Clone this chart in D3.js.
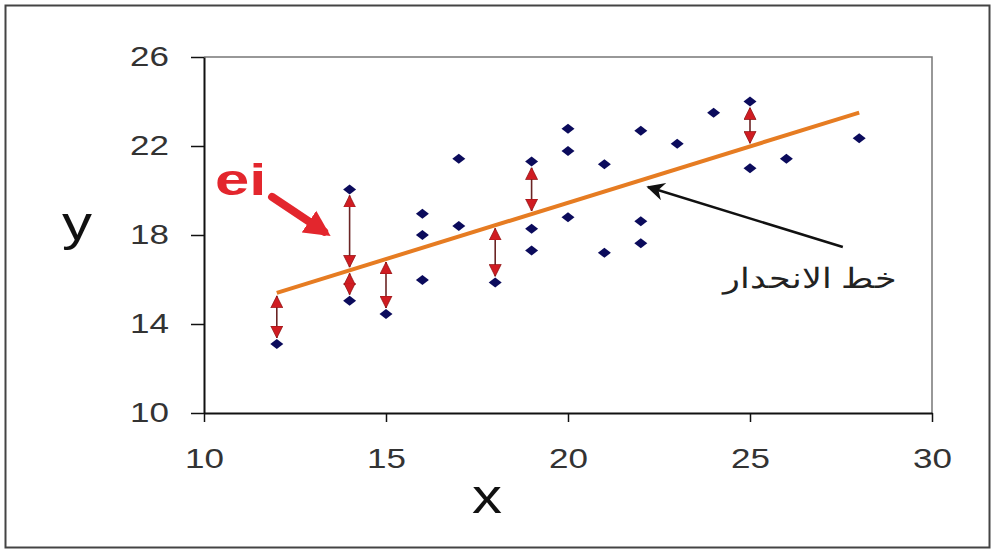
<!DOCTYPE html>
<html>
<head>
<meta charset="utf-8">
<script src="https://cdn.jsdelivr.net/npm/d3@7"></script>
<style>
  body { margin: 0; background: #fff; }
  text { font-family: "Liberation Sans", Arial, sans-serif; }
</style>
</head>
<body>
<script>
// tick values
var xTicks = [10, 15, 20, 25, 30];
var yTicks = [10, 14, 18, 22, 26];

// scatter points
var pointX = [12, 14, 14, 15, 16, 16, 16, 17, 17, 18, 19, 19, 19, 20, 20, 20, 21, 21, 22, 22, 22, 23, 24, 25, 25, 26, 28];
var pointY = [13.1, 20.05, 15.05, 14.45, 18.95, 18.0, 15.98, 21.43, 18.4, 15.87, 21.3, 18.28, 17.3, 22.77, 21.78, 18.8, 21.18, 17.2, 22.68, 18.62, 17.63, 22.1, 23.5, 24.0, 21.0, 21.43, 22.35];

// regression line end points
var fitX = [12, 28];
var fitY = [15.4, 23.5];

// residual arrows (x, observed y)
var residX = [12, 14, 14, 15, 18, 19, 25];
var residY = [13.1, 20.05, 15.05, 14.45, 15.87, 21.3, 24.0];

var width = 993, height = 551;
var svg = d3.select("body").append("svg").attr("width", width).attr("height", height);

svg.append("rect").attr("width", width).attr("height", height).attr("fill", "#fff");
svg.append("rect")
  .attr("x", 5.5).attr("y", 5.5)
  .attr("width", 984).attr("height", 542)
  .attr("fill", "none").attr("stroke", "#444").attr("stroke-width", 2);

var x = d3.scaleLinear().domain([10, 30]).range([204, 932]);
var y = d3.scaleLinear().domain([10, 26]).range([413, 57]);

// plot area frame (top + right)
svg.append("path")
  .attr("d", "M" + x(10) + "," + y(26) + "H" + x(30) + "V" + y(10))
  .attr("fill", "none").attr("stroke", "#777").attr("stroke-width", 1.5);

var xAxis = svg.append("g")
  .attr("transform", "translate(0," + y(10) + ")")
  .call(d3.axisBottom(x).tickValues(xTicks).tickSize(9).tickPadding(26).tickSizeOuter(0));
var yAxis = svg.append("g")
  .attr("transform", "translate(" + x(10) + ",0)")
  .call(d3.axisLeft(y).tickValues(yTicks).tickSize(13).tickPadding(23).tickSizeOuter(0));

[xAxis, yAxis].forEach(function (a) {
  a.select(".domain").attr("stroke", "#111").attr("stroke-width", 2);
  a.selectAll(".tick line").attr("stroke", "#111").attr("stroke-width", 1.5);
  a.selectAll(".tick text")
    .attr("font-size", 28)
    .attr("fill", "#333")
    .attr("font-family", "Liberation Sans, Arial, sans-serif");
});
xAxis.selectAll(".tick text").attr("transform", "scale(1.25,1)").attr("x", 0);
yAxis.selectAll(".tick text").attr("transform", "scale(1.25,1)").attr("x", -28);

// axis titles
svg.append("text")
  .attr("transform", "translate(487,513) scale(1.25,1)")
  .attr("text-anchor", "middle").attr("font-size", 48).attr("fill", "#111")
  .text("x");
svg.append("text")
  .attr("transform", "translate(77,240) scale(1.25,1)")
  .attr("text-anchor", "middle").attr("font-size", 48).attr("fill", "#111")
  .text("y");

var defs = svg.append("defs");
defs.append("marker")
  .attr("id", "rhead")
  .attr("viewBox", "0 0 10 10")
  .attr("refX", 10).attr("refY", 5)
  .attr("markerUnits", "userSpaceOnUse")
  .attr("markerWidth", 12).attr("markerHeight", 13)
  .attr("orient", "auto-start-reverse")
  .append("path").attr("d", "M0,0L10,5L0,10Z")
  .attr("fill", "#d01c22").attr("stroke", "#8a1010").attr("stroke-width", 0.6);
defs.append("marker")
  .attr("id", "bighead")
  .attr("viewBox", "0 0 10 10")
  .attr("refX", 7).attr("refY", 5)
  .attr("markerUnits", "userSpaceOnUse")
  .attr("markerWidth", 26).attr("markerHeight", 28)
  .attr("orient", "auto")
  .append("path").attr("d", "M0,0L10,5L0,10Z").attr("fill", "#e3262d");
defs.append("marker")
  .attr("id", "blackhead")
  .attr("viewBox", "0 0 10 10")
  .attr("refX", 9).attr("refY", 5)
  .attr("markerUnits", "userSpaceOnUse")
  .attr("markerWidth", 22).attr("markerHeight", 18)
  .attr("orient", "auto")
  .append("path").attr("d", "M0,0L10,5L0,10L3,5Z").attr("fill", "#111");

// regression line
var fitLine = d3.line().x(function (d) { return x(d[0]); }).y(function (d) { return y(d[1]); });
var slope = (fitY[1] - fitY[0]) / (fitX[1] - fitX[0]);
var fitAt = function (v) { return fitY[0] + slope * (v - fitX[0]); };

svg.append("path")
  .datum(d3.zip(fitX, fitY))
  .attr("d", fitLine)
  .attr("fill", "none").attr("stroke", "#e67c22").attr("stroke-width", 4);

// residual arrows
svg.append("g").selectAll("line")
  .data(d3.zip(residX, residY))
  .enter().append("line")
  .attr("x1", function (d) { return x(d[0]); })
  .attr("x2", function (d) { return x(d[0]); })
  .attr("y1", function (d) {
    var s = d[1] > fitAt(d[0]) ? -1 : 1;
    return y(fitAt(d[0])) + s * 3;
  })
  .attr("y2", function (d) {
    var s = d[1] > fitAt(d[0]) ? -1 : 1;
    return y(d[1]) - s * 6;
  })
  .attr("stroke", "#6b2424").attr("stroke-width", 1.6)
  .attr("marker-start", "url(#rhead)")
  .attr("marker-end", "url(#rhead)");

// points
svg.append("g").selectAll("path")
  .data(d3.zip(pointX, pointY))
  .enter().append("path")
  .attr("transform", function (d) { return "translate(" + x(d[0]) + "," + y(d[1]) + ")"; })
  .attr("d", "M0,-5L6.5,0L0,5L-6.5,0Z")
  .attr("fill", "#0b0b5c");

// "ei" annotation
svg.append("text")
  .attr("transform", "translate(" + x(10.3) + "," + y(19.8) + ") scale(1.4,1)")
  .attr("font-size", 44).attr("font-weight", "bold").attr("fill", "#e3262d")
  .text("ei");
svg.append("line")
  .attr("x1", x(11.87)).attr("y1", y(19.71))
  .attr("x2", x(13.3)).attr("y2", y(18.15))
  .attr("stroke", "#e3262d").attr("stroke-width", 8).attr("stroke-linecap", "round")
  .attr("marker-end", "url(#bighead)");

// regression line label
svg.append("line")
  .attr("x1", x(27.55)).attr("y1", y(17.46))
  .attr("x2", x(22.2)).attr("y2", y(20.16))
  .attr("stroke", "#111").attr("stroke-width", 2.5)
  .attr("marker-end", "url(#blackhead)");
svg.append("text")
  .attr("transform", "translate(" + x(26.65) + "," + y(15.6) + ") scale(1.25,1)")
  .attr("text-anchor", "middle").attr("font-size", 28).attr("fill", "#222")
  .attr("font-family", "DejaVu Sans, sans-serif")
  .text("خط الانحدار");
</script>
</body>
</html>
